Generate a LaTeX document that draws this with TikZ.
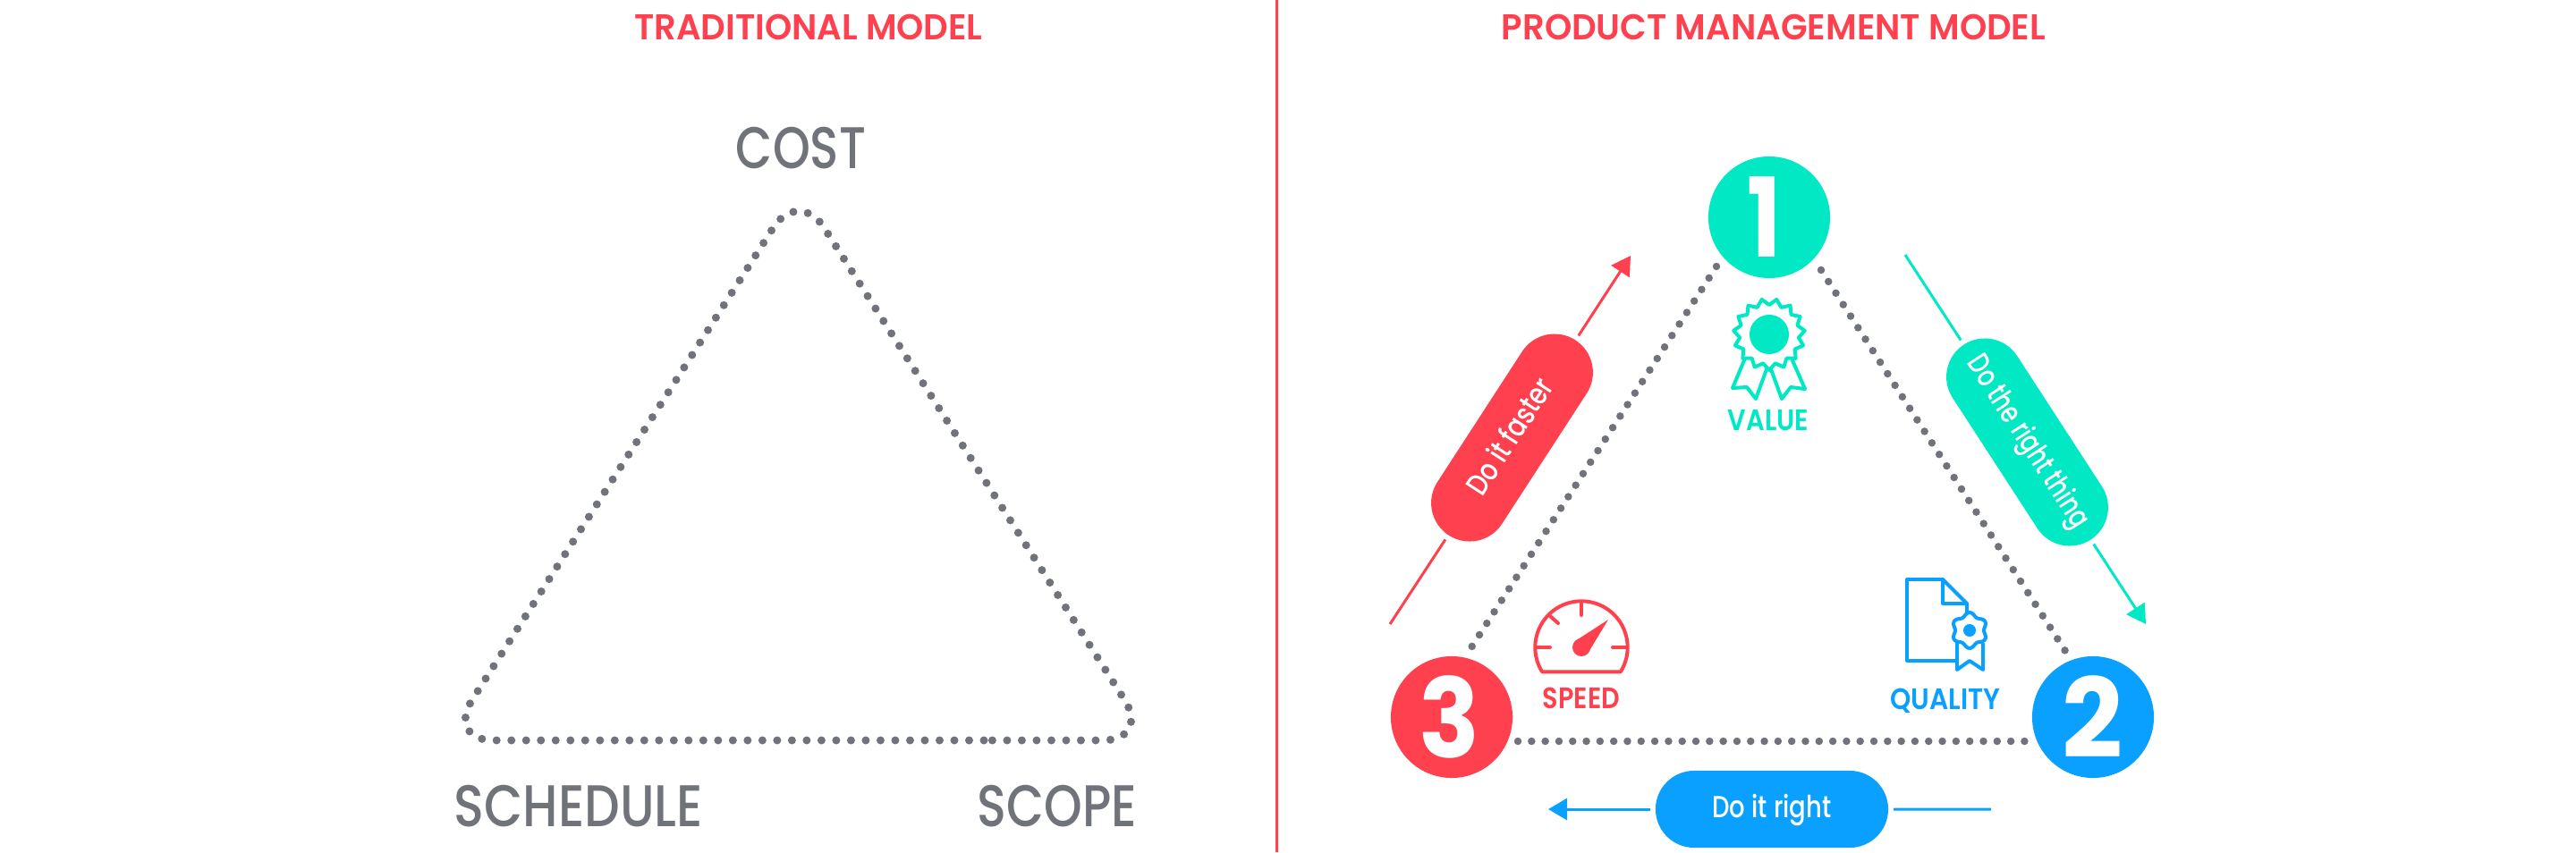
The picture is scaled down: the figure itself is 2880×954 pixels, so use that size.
\documentclass[tikz,border=0pt]{standalone}
\usepackage{fontspec}
\usepackage{graphicx}
\setmainfont{Poppins}
\newfontfamily\medfont{Poppins Medium}
\newfontfamily\semifont{Poppins SemiBold}
\usetikzlibrary{shapes.misc,arrows.meta}
\definecolor{cred}{RGB}{255,64,78}
\definecolor{cteal}{RGB}{0,232,196}
\definecolor{cblue}{RGB}{10,160,255}
\definecolor{cgrey}{RGB}{112,116,122}
\newcommand\fitw[2]{\resizebox{#1}{\height}{#2}}
\newcommand\fsz[1]{\fontsize{#1}{#1}\selectfont}
\tikzset{
  dotline/.style={draw=cgrey,line width=0.085cm,line cap=round,dash pattern=on 0pt off 0.153cm},
  numcircle/.style={circle,minimum size=1.36cm,inner sep=0pt,text=white,font=\bfseries\fsz{35}},
  pill/.style={rounded rectangle,minimum width=2.6cm,minimum height=0.86cm,inner sep=0pt,outer sep=0.06cm,text=white,text height=0.24cm,text depth=0.06cm,font=\medfont\fsz{9.7}},
  arrowline/.style={line width=0.03cm},
  tipped/.style={arrowline,-{Triangle[length=0.21cm,width=0.24cm]}},
  title/.style={text=cred,anchor=base,inner sep=0pt,font=\semifont\fsz{11.4}},
  biglabel/.style={text=cgrey,anchor=base,inner sep=0pt,font=\medfont\fsz{18.7}},
  smalllabel/.style={anchor=base,inner sep=0pt,font=\semifont\fsz{9.4}},
  icon/.style={line width=0.04cm,line join=round,line cap=round}
}
\begin{document}
\begin{tikzpicture}[x=0.01cm,y=-0.01cm]
\useasboundingbox (0,0) rectangle (2880,954);
% divider
\coordinate (divtop) at (1427,0);
\coordinate (divbot) at (1427,953);
\draw[cred,line width=0.03cm] (divtop) -- (divbot);
% titles
\node[title] (t1) at (904,44) {\fitw{3.89cm}{TRADITIONAL MODEL}};
\node[title] (t2) at (1983,44) {\fitw{6.08cm}{PRODUCT MANAGEMENT MODEL}};
% traditional triangle
\node[biglabel] (cost) at (895.5,188) {\fitw{1.45cm}{COST}};
\node[biglabel] (schedule) at (647,924) {\fitw{2.78cm}{SCHEDULE}};
\node[biglabel] (scope) at (1182,924) {\fitw{1.78cm}{SCOPE}};
\coordinate (va) at (893,210);
\coordinate (vb) at (1286,828);
\coordinate (vc) at (499,828);
\coordinate (vm) at (1100,828);
\draw[dotline,line width=0.09cm,dash pattern=on 0pt off 0.165cm,rounded corners=0.53cm] (vm) -- (vc) -- (va) -- (vb) -- (vm);
% number circles
\node[numcircle,fill=cteal] (n1) at (1978,243) {\hspace*{-0.1cm}\fitw{0.38cm}{1}};
\node[numcircle,fill=cblue] (n2) at (2340,802) {\fitw{0.68cm}{2}};
\node[numcircle,fill=cred] (n3) at (1623,802) {\hspace*{-0.05cm}\fitw{0.68cm}{3}};
% dotted triangle
\coordinate (d1a) at (1919,298);
\coordinate (d3a) at (1645,724);
\coordinate (d1b) at (2036,302);
\coordinate (d2b) at (2309,728);
\coordinate (d3c) at (1697,829);
\coordinate (d2c) at (2266,829);
\draw[dotline] (d1a) -- (d3a);
\draw[dotline] (d1b) -- (d2b);
\draw[dotline] (d3c) -- (d2c);
% pills
\node[pill,fill=cred,rotate=57] (pr) at (1690.5,489.5) {\fitw{1.48cm}{Do it faster}};
\node[pill,fill=cteal,rotate=-57] (pt) at (2266.5,494.5) {\fitw{2.23cm}{Do the right thing}};
\node[pill,fill=cblue] (pb) at (1981,905) {\fitw{1.33cm}{Do it right}};
% arrows
\coordinate (rtail) at (1554,698);
\coordinate (rtip) at (1823,286);
\coordinate (ttail) at (2130,285);
\coordinate (ttip) at (2399,698);
\coordinate (btail) at (2226,905);
\coordinate (btip) at (1731,905);
\draw[cred,arrowline] (pr) -- (rtail);
\draw[cred,tipped] (pr) -- (rtip);
\draw[cteal,arrowline] (pt) -- (ttail);
\draw[cteal,tipped] (pt) -- (ttip);
\draw[cblue,arrowline] (pb) -- (btail);
\draw[cblue,tipped] (pb) -- (btip);
% value icon
\draw[cteal,icon] plot[domain=0:348,samples=30] ({1978+(40-7*(mod(round(\x/12),2)))*cos(\x+78)},{374-(40-7*(mod(round(\x/12),2)))*sin(\x+78)}) -- cycle;
\fill[cteal] (1978,374) circle[radius=0.22cm];
\draw[cteal,icon] (1950,403) -- (1937,434) -- (1953,433) -- (1963,446) -- (1975,413);
\draw[cteal,icon] (2004,403) -- (2018,435) -- (2002,433) -- (1992,446) -- (1980,413);
\node[smalllabel,text=cteal] (value) at (1977,481) {\fitw{0.90cm}{VALUE}};
% speed icon
\draw[cred,icon] plot[domain=-32:212,samples=50] ({1768+51.7*cos(\x)},{724-51.7*sin(\x)}) -- cycle;
\draw[cred,icon] (1768,675) -- (1768,688);
\draw[cred,icon] (1733,689) -- (1742,697);
\draw[cred,icon] (1717,724) -- (1733,724);
\draw[cred,icon] (1803,724) -- (1819,724);
\fill[cred] (1768,724) circle[radius=0.10cm];
\fill[cred,line join=round] (1798,693) -- (1775,731) -- (1761,717) -- cycle;
\node[smalllabel,text=cred] (speed) at (1768,792) {\fitw{0.86cm}{SPEED}};
% quality icon
\draw[cblue,icon] (2172,648) -- (2132,648) -- (2132,739) -- (2188,739);
\draw[cblue,icon] (2172,648) -- (2199,675) -- (2172,675) -- cycle;
\draw[cblue,icon] (2199,675) -- (2199,685);
\draw[cblue,icon] (2188,720) -- (2188,749) -- (2202,739) -- (2217,749) -- (2217,720);
\draw[cblue,icon,fill=white] plot[domain=0:355,samples=72] ({2202+(18+2*cos(6*\x))*sin(\x)},{705-(18+2*cos(6*\x))*cos(\x)}) -- cycle;
\fill[cblue] (2202,705) circle[radius=0.07cm];
\node[smalllabel,text=cblue] (quality) at (2175,793) {\fitw{1.23cm}{QUALITY}};
\end{tikzpicture}
\end{document}
